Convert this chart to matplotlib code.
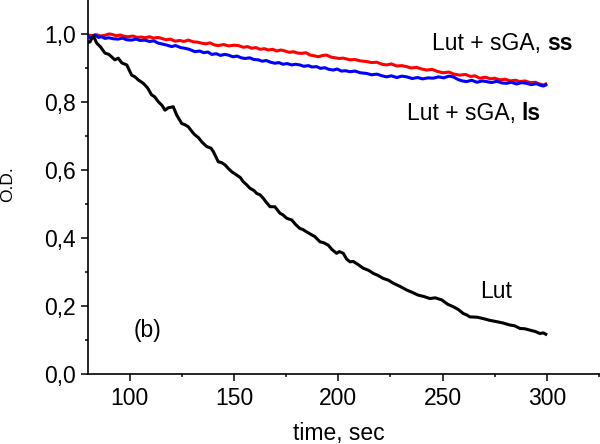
import matplotlib
matplotlib.use("Agg")
import matplotlib.pyplot as plt
from matplotlib.ticker import FuncFormatter, FixedLocator

plt.rcParams['font.family'] = ['Liberation Sans', 'DejaVu Sans']

# ---- data ----
lut_x = [80, 81, 82.5, 84.2, 86, 88.1, 90, 92.9, 94.5, 96.2, 98.6, 100.9, 102.5, 104.1, 106.5, 108.5,
         110.5, 112, 113.7, 115.5, 116.9, 118.5, 120.9, 122.5, 124.9, 126.5, 128.1, 130, 131.3, 133,
         134.5, 136.9, 139, 140.1, 142.5, 144, 145.7, 147.5, 148.9, 151.3, 153, 154.4, 156, 157.7,
         159.5, 160.9, 162.5, 164.0, 165.5, 167.3, 169.6, 172.0, 173.5, 175.3, 177.7, 179.5, 181.6,
         183, 184.8, 186.5, 188.8, 191.2, 193, 195.2, 197, 199.2, 200.5, 202.4, 204, 205.6, 207.2,
         209.5, 212.0, 214.5, 216.8, 219, 221.6, 224, 226.4, 229.5, 232.8, 235.5, 238.3, 241, 243.9,
         246.5, 249.6, 252.5, 255.1, 257.5, 259.9, 261.5, 263.1, 266.5, 269.5, 272.5, 275.9, 279,
         282.3, 284.5, 287.1, 289.5, 291.9, 294.5, 296.7, 298.3, 299.5]
lut_y = [0.975, 0.977, 0.995, 0.973, 0.962, 0.944, 0.940, 0.924, 0.929, 0.915, 0.909, 0.879, 0.874,
         0.865, 0.855, 0.842, 0.821, 0.815, 0.801, 0.790, 0.776, 0.783, 0.786, 0.762, 0.737, 0.733,
         0.727, 0.712, 0.703, 0.695, 0.683, 0.669, 0.664, 0.654, 0.624, 0.622, 0.615, 0.603, 0.595,
         0.585, 0.578, 0.566, 0.557, 0.546, 0.540, 0.531, 0.527, 0.517, 0.505, 0.492, 0.492, 0.473,
         0.468, 0.458, 0.453, 0.440, 0.428, 0.425, 0.418, 0.412, 0.404, 0.389, 0.386, 0.379, 0.366,
         0.355, 0.360, 0.355, 0.338, 0.330, 0.331, 0.322, 0.311, 0.305, 0.296, 0.290, 0.281, 0.276,
         0.267, 0.258, 0.247, 0.240, 0.232, 0.228, 0.222, 0.224, 0.218, 0.205, 0.198, 0.190, 0.178,
         0.174, 0.168, 0.167, 0.163, 0.158, 0.154, 0.150, 0.144, 0.142, 0.134, 0.133, 0.129, 0.125,
         0.119, 0.121, 0.117]

ss_x = [80, 82, 84, 86, 88, 90, 91.4, 93.5, 95.5, 97.5, 99.3, 101.5, 103.5, 105.5, 107.3, 109.5,
        111.5, 113.5, 115.3, 117.5, 119.5, 121.7, 124, 126, 128.1, 130.5, 132.5, 134.5, 136.5, 138.5,
        140.5, 142.5, 145, 147.5, 150, 152.1, 154.5, 156.5, 158.5, 160.5, 162.5, 164.5, 166.4, 168.5,
        170.5, 172.5, 174.4, 176.5, 178.5, 180.5, 182.4, 184.5, 186.5, 188.5, 190.4, 192.5, 194.4,
        196.5, 198.5, 200.5, 202.5, 205.6, 208, 210.5, 213.6, 216, 218.5, 221, 223.2, 225.5, 228,
        230.5, 232.8, 235, 237.5, 240, 242.4, 245, 247.5, 250.3, 253, 255.5, 258.3, 261, 263.5, 265.5,
        267.9, 270.5, 273, 275, 277.5, 280, 282.5, 285, 287.1, 289.5, 292, 294.5, 296.5, 298.3, 299.5]
ss_y = [0.997, 0.995, 0.998, 0.994, 0.996, 1.000, 0.999, 0.995, 0.997, 0.993, 0.992, 0.994, 0.990,
        0.991, 0.989, 0.992, 0.988, 0.990, 0.987, 0.983, 0.985, 0.979, 0.981, 0.978, 0.982, 0.977,
        0.976, 0.973, 0.971, 0.974, 0.968, 0.966, 0.969, 0.965, 0.967, 0.966, 0.961, 0.963, 0.958,
        0.960, 0.955, 0.957, 0.953, 0.955, 0.950, 0.953, 0.950, 0.946, 0.948, 0.944, 0.943, 0.945,
        0.938, 0.936, 0.933, 0.937, 0.938, 0.932, 0.930, 0.928, 0.929, 0.924, 0.925, 0.921, 0.919,
        0.916, 0.917, 0.911, 0.909, 0.912, 0.906, 0.907, 0.904, 0.900, 0.902, 0.897, 0.894, 0.896,
        0.890, 0.886, 0.888, 0.882, 0.879, 0.881, 0.875, 0.877, 0.870, 0.873, 0.868, 0.870, 0.865,
        0.867, 0.862, 0.864, 0.860, 0.862, 0.857, 0.858, 0.853, 0.850, 0.853]

ls_x = [80, 81.5, 83.4, 85, 86.5, 88.1, 90, 92, 94.5, 96.5, 98.5, 100.9, 103, 105, 107.3, 109.5,
        111.5, 113.7, 116, 118, 120.1, 122, 124.5, 126.5, 128.5, 131.3, 133.5, 135.5, 137.5, 139.3,
        141.5, 143.5, 145.5, 147.3, 149.5, 151.5, 153.5, 155.3, 157.5, 159.5, 161.7, 163.5, 165.5,
        167.5, 169.6, 171.5, 173.5, 175.5, 177.7, 179.5, 181.6, 183.5, 185.6, 187.5, 189.6, 191.5,
        193.5, 195.5, 197.6, 199.5, 201.5, 203.5, 205.6, 208, 210.5, 213.6, 216, 218.5, 221, 223.2,
        225.5, 228, 230.5, 232.8, 235.5, 238, 240.5, 243, 245.5, 248, 250.5, 253, 255.1, 257.5, 259.5,
        261.5, 264, 266.5, 269, 271.1, 273.5, 276, 278.5, 280.7, 283, 285.5, 288, 290.3, 292.5, 295,
        297, 298.3, 299.5]
ls_y = [0.992, 0.988, 0.997, 0.990, 0.992, 0.987, 0.989, 0.986, 0.985, 0.988, 0.983, 0.982, 0.985,
        0.981, 0.982, 0.978, 0.980, 0.973, 0.970, 0.967, 0.963, 0.966, 0.960, 0.958, 0.955, 0.948,
        0.950, 0.945, 0.947, 0.940, 0.942, 0.937, 0.940, 0.938, 0.933, 0.935, 0.930, 0.928, 0.930,
        0.925, 0.924, 0.920, 0.922, 0.917, 0.914, 0.916, 0.911, 0.913, 0.909, 0.911, 0.909, 0.905,
        0.907, 0.903, 0.904, 0.899, 0.901, 0.896, 0.894, 0.897, 0.891, 0.892, 0.889, 0.891, 0.886,
        0.884, 0.880, 0.882, 0.877, 0.874, 0.877, 0.872, 0.876, 0.874, 0.869, 0.872, 0.868, 0.871,
        0.870, 0.874, 0.871, 0.876, 0.874, 0.866, 0.862, 0.860, 0.864, 0.858, 0.862, 0.860, 0.857,
        0.861, 0.856, 0.855, 0.858, 0.853, 0.857, 0.855, 0.851, 0.854, 0.849, 0.847, 0.850]

x_major = [100, 150, 200, 250, 300]
x_minor = [125, 175, 225, 275, 325]
y_major = [0.0, 0.2, 0.4, 0.6, 0.8, 1.0]
y_minor = [0.1, 0.3, 0.5, 0.7, 0.9]

# ---- figure ----
fig = plt.figure(figsize=(6.0, 4.44), dpi=100)
ax = fig.add_axes([88 / 600, 70 / 444, 1 - 88 / 600, 1 - 70 / 444])

ax.plot(ss_x, ss_y, color='#ff0000', lw=2.2, zorder=2)
ax.plot(ls_x, ls_y, color='#0000ff', lw=2.2, zorder=3)
ax.plot(lut_x, lut_y, color='black', lw=2.2, zorder=4)

ax.set_xlim(80, 325.5)
ax.set_ylim(0, 1.1)

for s in ['top', 'right']:
    ax.spines[s].set_visible(False)
for s in ['left', 'bottom']:
    ax.spines[s].set_linewidth(1.2)

ax.xaxis.set_major_locator(FixedLocator(x_major))
ax.xaxis.set_minor_locator(FixedLocator(x_minor))
ax.yaxis.set_major_locator(FixedLocator(y_major))
ax.yaxis.set_minor_locator(FixedLocator(y_minor))
ax.yaxis.set_major_formatter(FuncFormatter(lambda v, p: f"{v:.1f}".replace('.', ',')))

ax.tick_params(which='major', direction='out', length=5, width=1.1, labelsize=16.5, pad=4)
ax.tick_params(which='minor', direction='out', length=2.5, width=1.1)

fs = 16.5
t1 = ax.text(244.8, 0.973, "Lut + sGA,", fontsize=fs, ha='left', va='center')
ax.annotate("ss", xy=(1, 0.5), xycoords=t1, xytext=(4.5, 0), textcoords='offset points',
            fontsize=fs, fontweight='bold', ha='left', va='center')
t2 = ax.text(232.8, 0.767, "Lut + sGA,", fontsize=fs, ha='left', va='center')
ax.annotate("ls", xy=(1, 0.5), xycoords=t2, xytext=(4.5, 0), textcoords='offset points',
            fontsize=fs, fontweight='bold', ha='left', va='center')
ax.text(267.9, 0.242, "Lut", fontsize=fs, ha='left', va='center')
ax.text(101.7, 0.129, "(b)", fontsize=fs, ha='left', va='center')

fig.text(338.7 / 600, 1 - 433 / 444, "time, sec", fontsize=fs, ha='center', va='center')
fig.text(8 / 600, 1 - 184 / 444, "O.D.", fontsize=12.5, rotation=90, ha='center', va='center')

fig.savefig("out.png", dpi=100)
